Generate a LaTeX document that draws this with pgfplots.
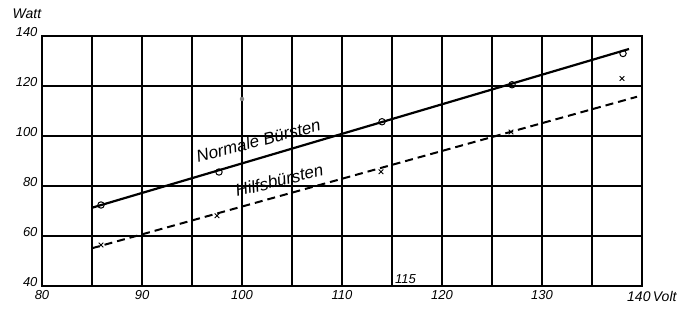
\documentclass[border=0pt]{standalone}
\usepackage{fontspec}
\setmainfont{Liberation Sans}
\usepackage{pgfplots}
\pgfplotsset{compat=1.18}
\begin{document}
\begin{tikzpicture}
\begin{axis}[
  scale only axis,
  width=600pt, height=250pt,
  xmin=80, xmax=140, ymin=40, ymax=140,
  xtick={80,90,...,130}, minor xtick={85,95,...,135},
  ytick={40,60,...,140},
  grid=both,
  major grid style={black, line width=1.2pt},
  minor grid style={black, line width=1.2pt},
  axis line style={black, line width=1.5pt},
  major tick length=0pt, minor tick length=0pt,
  /pgf/number format/assume math mode=true,
  ticklabel style={font=\fontsize{13}{14}\selectfont\itshape},
  yticklabel style={yshift=4pt, xshift=-1pt},
  xticklabel style={yshift=-1pt},
  clip=false,
]
% Normale Bürsten
\addplot[black, line width=2.2pt] coordinates {(85,71.3) (138.7,134.8)};
\addplot[only marks, mark=o, mark size=3.2pt, mark options={fill=white, line width=1pt}, black] coordinates {
 (85.9,72.4) (97.7,85.6) (114,105.7) (127,120.5) (138.1,133)};
% Hilfsbürsten
\addplot[black, line width=2pt, dash pattern=on 8pt off 5pt] coordinates {(85,55.1) (139.5,115.7)};
\addplot[only marks, mark=x, mark size=3.3pt, mark options={line width=1pt}, black] coordinates {
 (85.9,56.4) (97.5,68.1) (113.9,85.7) (126.9,101.6) (138,123)};
% stray dot
\addplot[only marks, mark=*, mark size=2pt, gray] coordinates {(100,114.8)};
\node[anchor=base west, rotate=14.5, inner sep=0pt, font=\fontsize{17}{18}\selectfont\itshape] at (axis cs:95.6,89.4) {Normale Bürsten};
\node[anchor=base west, rotate=14, inner sep=0pt, font=\fontsize{17}{18}\selectfont\itshape] at (axis cs:99.5,75.6) {Hilfsbürsten};
\node[anchor=base west, font=\fontsize{13}{14}\selectfont\itshape, inner sep=0pt] at (axis cs:115.3,40.8) {115};
\node[anchor=north west, font=\fontsize{14}{15}\selectfont\itshape, inner sep=0pt] at ([xshift=-15pt,yshift=-5pt]axis cs:140,40) {140\,Volt};
\node[anchor=center, font=\fontsize{14}{15}\selectfont\itshape, inner sep=0pt] at ([xshift=-15pt,yshift=22pt]axis cs:80,140) {Watt};
\end{axis}
\pgfresetboundingbox
\useasboundingbox (-42pt,-24pt) rectangle (642pt,286pt);
\end{tikzpicture}
\end{document}
